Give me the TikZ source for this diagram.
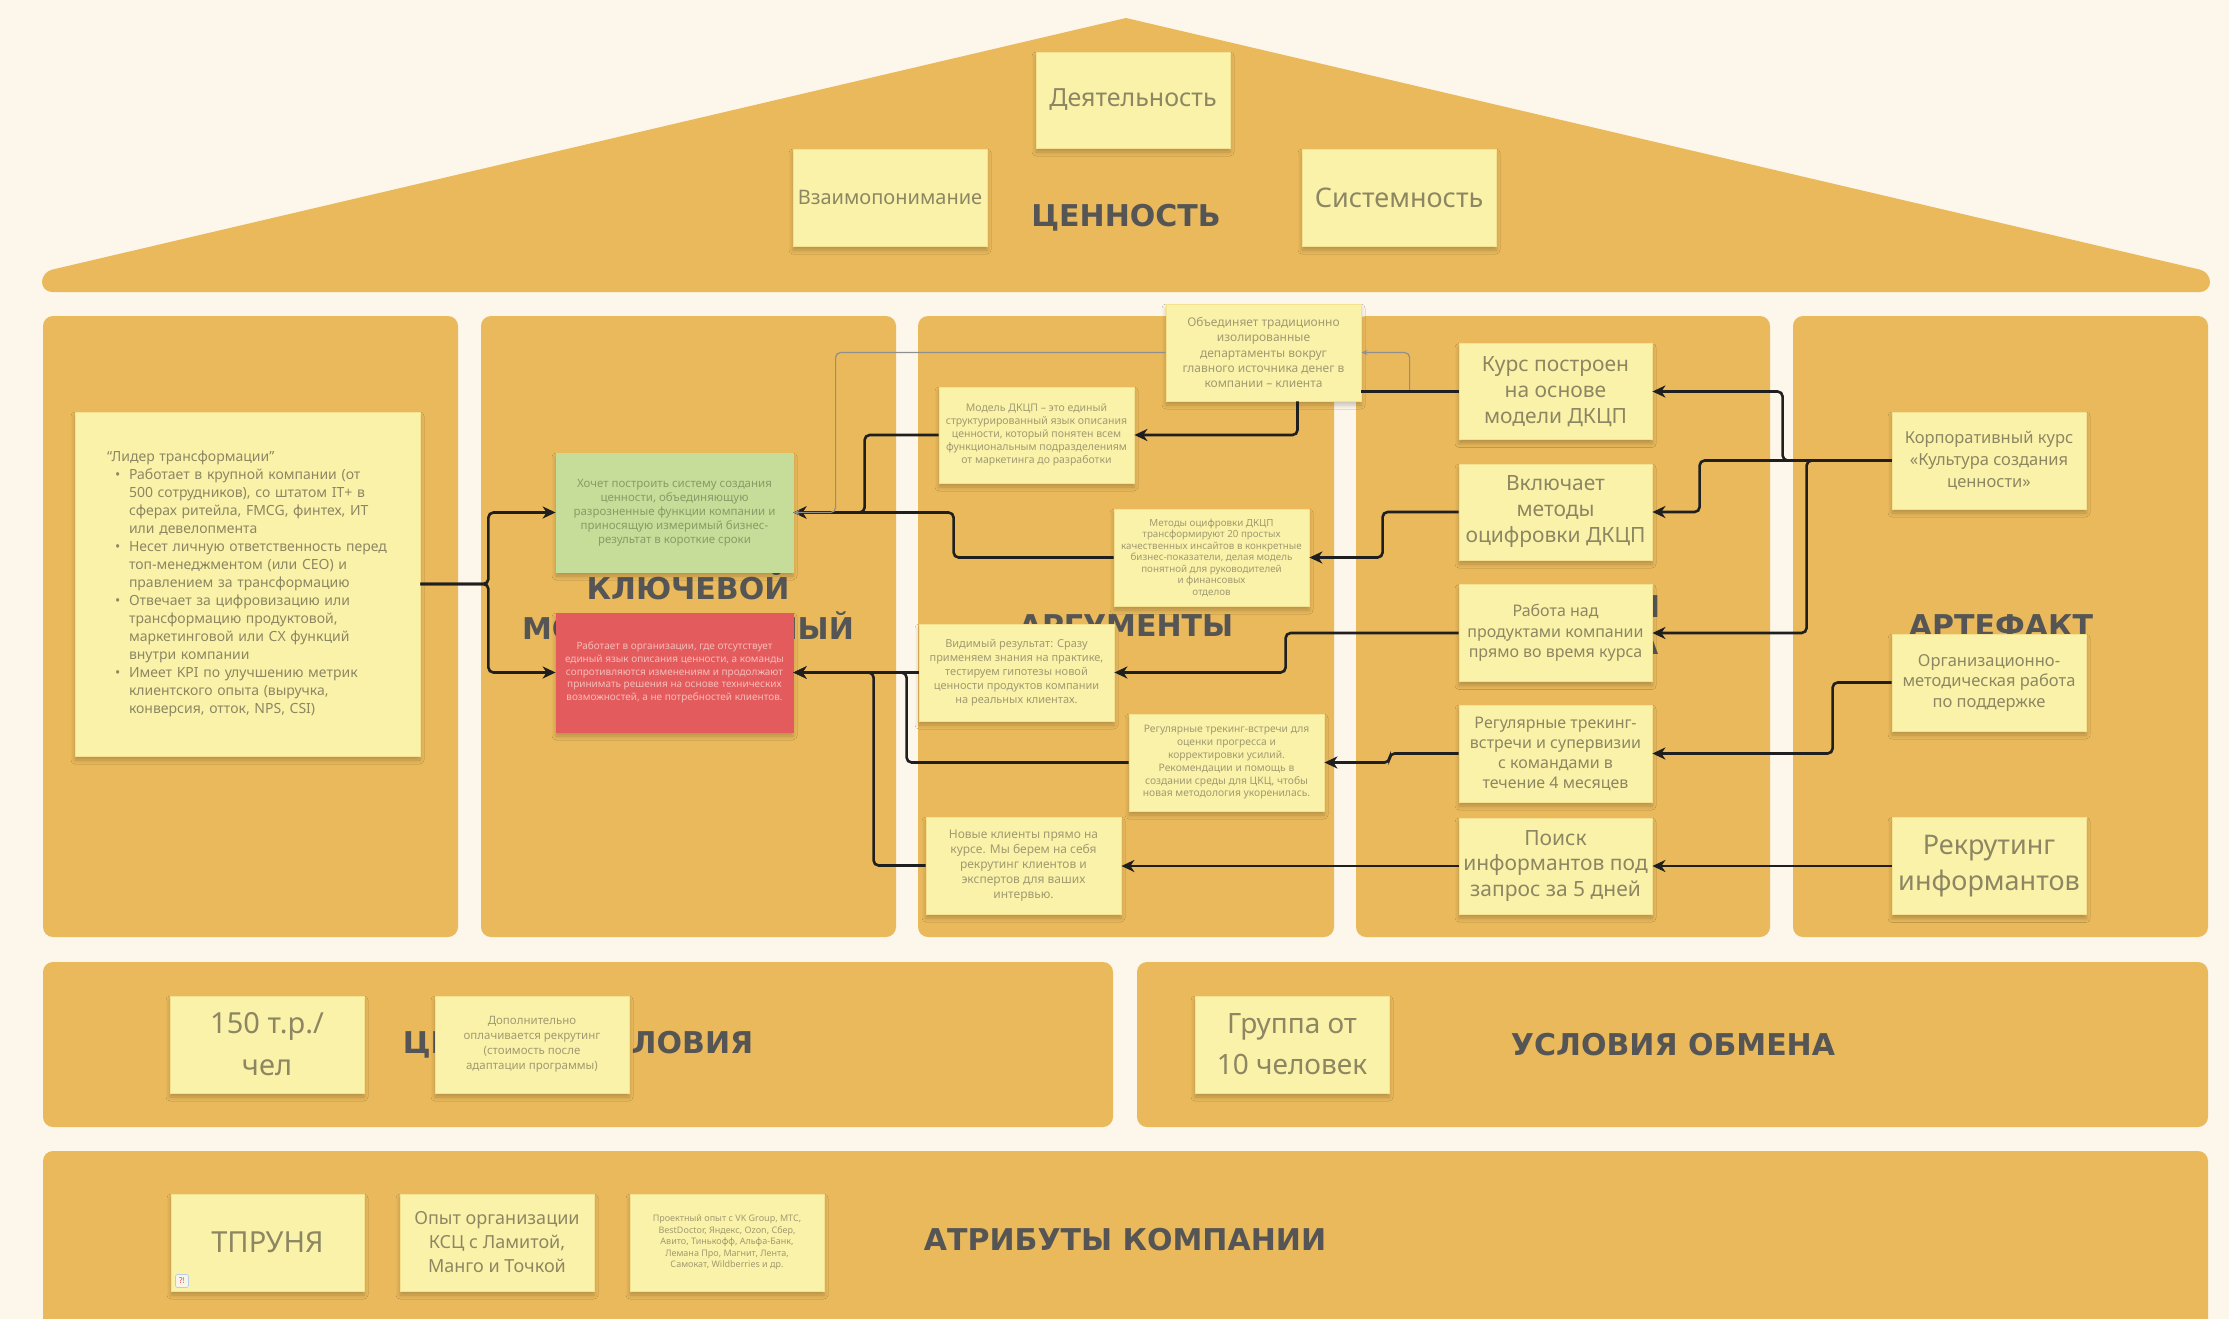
\documentclass[tikz,border=0pt]{standalone}
\usepackage{fontspec}
\setmainfont{Noto Sans}
\newfontfamily\lblfont{DejaVu Sans}
\usetikzlibrary{arrows.meta,shadows,shadows.blur}
\definecolor{bgc}{HTML}{FDF6EB}
\definecolor{panelc}{HTML}{E9B95B}
\definecolor{stickyc}{HTML}{FBF2AA}
\definecolor{stickyb}{HTML}{F4E290}
\definecolor{lblc}{HTML}{555555}
\definecolor{blurc}{HTML}{8C8762}
\definecolor{blurs}{HTML}{A09A70}
\definecolor{connc}{HTML}{1F1F1F}
\definecolor{thinc}{HTML}{8F8F8F}
\definecolor{greenc}{HTML}{C5DD98}
\definecolor{greent}{HTML}{8A9B68}
\definecolor{redc}{HTML}{E45B5D}
\definecolor{redt}{HTML}{F5BDB9}
\definecolor{iconb}{HTML}{B8CDE6}
\definecolor{iconf}{HTML}{F8F6E8}
\newcommand{\myfs}[2]{\fontsize{#1}{#2}\selectfont}
\newcommand{\blt}{\hspace*{8pt}\makebox[14pt][l]{•}}
\newcommand{\cnt}{\hspace*{22pt}}
\begin{document}
\begin{tikzpicture}[x=1pt,y=-1pt,
  stk/.style={fill=stickyc, draw=stickyb, line width=0.8pt, inner sep=0pt, align=center, text=blurc,
    blur shadow={shadow xshift=0pt, shadow yshift=-4pt, shadow blur radius=4pt, shadow opacity=22}},
  sz/.style 2 args={minimum width=#1pt, minimum height=#2pt},
  lbl/.style={font=\lblfont\bfseries\myfs{30}{38}, text=lblc, inner sep=0pt, align=center},
  conn/.style={draw=connc, line width=2.6pt, rounded corners=5pt, -{Stealth[length=13pt,width=12pt,inset=4pt]}},
  plain/.style={draw=connc, line width=2.6pt, rounded corners=5pt},
  thin/.style={draw=thinc, line width=1.2pt, rounded corners=5pt, -{Stealth[length=6pt,width=5pt]}}]
\useasboundingbox (0,0) rectangle (2229,1319);
\clip (0,0) rectangle (2229,1319);
\fill[bgc] (0,0) rectangle (2229,1319);
% roof
\fill[panelc] (1126,18) [rounded corners=10pt]-- (2210,272) -- (2210,292) -- (42,292) -- (42,272) [sharp corners]-- cycle;
% columns
\foreach \xa/\xb in {43/458, 481/896, 918/1334, 1356/1770, 1793/2208}
  \fill[panelc, rounded corners=10pt] (\xa,316) rectangle (\xb,937);
% rows
\fill[panelc, rounded corners=10pt] (43,962) rectangle (1113,1127);
\fill[panelc, rounded corners=10pt] (1137,962) rectangle (2208,1127);
\fill[panelc, rounded corners=10pt] (43,1151) rectangle (2208,1380);
% labels
\node[lbl] (lval) at (1126,218) {ЦЕННОСТЬ};
\node[lbl, font=\lblfont\bfseries\myfs{30}{40}] (lkey) at (688,608) {КЛЮЧЕВОЙ\\МОТИВАЦИОННЫЙ};
\node[lbl] (larg) at (1126,626) {АРГУМЕНТЫ};
\node[lbl, font=\lblfont\bfseries\myfs{30}{37}] (lel) at (1563,627) {ЭЛЕМЕНТЫ\\ПРОДУКТА};
\node[lbl] (lart) at (2001,626) {АРТЕФАКТ};
\node[lbl] (lprice) at (578,1045) {ЦЕНОВЫЕ УСЛОВИЯ};
\node[lbl] (lexch) at (1673,1045) {УСЛОВИЯ ОБМЕНА};
\node[lbl] (lattr) at (1125,1240) {АТРИБУТЫ КОМПАНИИ};

% roof stickies
\node[stk, sz={194}{96}, font=\myfs{25}{30}] (act) at (1133,100) {Деятельность};
\node[stk, sz={194}{97}, font=\myfs{20}{24}] (mut) at (890,197.5) {Взаимопонимание};
\node[stk, sz={194}{97}, font=\myfs{27}{32}] (sys) at (1399,197.5) {Системность};

% column 1
\node[stk, sz={345}{344}, text width=281pt, align=left, font=\myfs{14}{18}] (lead) at (247.5,584)
{“Лидер трансформации”\\
\blt Работает в крупной компании (от\\
\cnt 500 сотрудников), со штатом IT+ в\\
\cnt сферах ритейла, FMCG, финтех, ИТ\\
\cnt или девелопмента\\
\blt Несет личную ответственность перед\\
\cnt топ-менеджментом (или CEO) и\\
\cnt правлением за трансформацию\\
\blt Отвечает за цифровизацию или\\
\cnt трансформацию продуктовой,\\
\cnt маркетинговой или CX функций\\
\cnt внутри компании\\
\blt Имеет KPI по улучшению метрик\\
\cnt клиентского опыта (выручка,\\
\cnt конверсия, отток, NPS, CSI)};

% column 2
\node[stk, fill=greenc, draw=greenc, sz={237}{119}, text=greent, font=\myfs{11.5}{14}] (green) at (674.5,512.5)
{\textbf{Хочет} построить систему создания\\ценности, объединяющую\\разрозненные функции компании и\\приносящую измеримый бизнес-\\результат в короткие сроки};
\node[stk, fill=redc, draw=redc, sz={237}{119}, text=redt, font=\myfs{10}{12.7}] (red) at (674.5,672.5)
{Работает в организации, где отсутствует\\единый язык описания ценности, а команды\\сопротивляются изменениям и продолжают\\принимать решения на основе технических\\возможностей, а не потребностей клиентов.};

% column 3
\node[stk, sz={195}{97}, text=blurs, font=\myfs{12}{15.3}] (unite) at (1263.5,352.5)
{Объединяет традиционно\\изолированные\\департаменты вокруг\\главного источника денег в\\компании – клиента};
\node[stk, sz={195}{96}, text=blurs, font=\myfs{10.5}{13}] (model) at (1036.5,435)
{Модель ДКЦП – это единый\\структурированный язык описания\\ценности, который понятен всем\\функциональным подразделениям\\от маркетинга до разработки};
\node[stk, sz={195}{97}, text=blurs, font=\myfs{9.8}{11.5}] (methods) at (1211.5,557.5)
{Методы оцифровки ДКЦП\\трансформируют 20 простых\\качественных инсайтов в конкретные\\бизнес-показатели, делая модель\\понятной для руководителей\\и финансовых\\отделов};
\node[stk, sz={195}{97}, text=blurs, font=\myfs{11}{14}] (visible) at (1016.5,672.5)
{\textbf{Видимый результат:} Сразу\\применяем знания на практике,\\тестируем гипотезы новой\\ценности продуктов компании\\на реальных клиентах.};
\node[stk, sz={195}{97}, text=blurs, font=\myfs{10.3}{12.8}] (track) at (1226.5,762.5)
{Регулярные трекинг-встречи для\\оценки прогресса и\\корректировки усилий.\\Рекомендации и помощь в\\создании среды для ЦКЦ, чтобы\\новая методология укоренилась.};
\node[stk, sz={195}{97}, text=blurs, font=\myfs{12}{15}] (newcl) at (1023.5,865.5)
{\textbf{Новые клиенты прямо на}\\\textbf{курсе.} Мы берем на себя\\рекрутинг клиентов и\\экспертов для ваших\\интервью.};

% column 4
\node[stk, sz={193}{96}, font=\myfs{21}{26}] (c1) at (1555.5,391.5) {Курс построен\\на основе\\модели ДКЦП};
\node[stk, sz={193}{96}, font=\myfs{21}{26}] (c2) at (1555.5,512) {Включает\\методы\\оцифровки ДКЦП};
\node[stk, sz={193}{97}, font=\myfs{16}{20.4}] (c3) at (1555.5,633) {Работа над\\продуктами компании\\прямо во время курса};
\node[stk, sz={193}{97}, font=\myfs{16}{20}] (c4) at (1555.5,753.5) {Регулярные трекинг-\\встречи и супервизии\\с командами в\\течение 4 месяцев};
\node[stk, sz={193}{96}, font=\myfs{21}{25.5}] (c5) at (1555.5,866) {Поиск\\информантов под\\запрос за 5 дней};

% column 5
\node[stk, sz={194}{97}, font=\myfs{16.5}{22}] (k1) at (1989,460.5) {Корпоративный курс\\«Культура создания\\ценности»};
\node[stk, sz={194}{97}, font=\myfs{16.5}{20.5}] (k2) at (1989,682.5) {Организационно-\\методическая работа\\по поддержке};
\node[stk, sz={194}{97}, font=\myfs{27}{36}] (k3) at (1989,866) {Рекрутинг\\информантов};

% row 1
\node[stk, sz={194}{97}, font=\myfs{29}{42}] (price) at (267,1044.5) {150 т.р./\\чел};
\node[stk, sz={194}{97}, text=blurs, font=\myfs{11.5}{15}] (extra) at (532,1044.5) {Дополнительно\\оплачивается рекрутинг\\(стоимость после\\адаптации программы)};
\node[stk, sz={194}{97}, font=\myfs{28}{41}] (group) at (1292,1044.5) {Группа от\\10 человек};

% row 2
\node[stk, sz={193}{97}, font=\myfs{29}{34}] (tpr) at (267.5,1242.5) {ТПРУНЯ};
\node[stk, sz={194}{97}, font=\myfs{18}{24}] (exp) at (497,1242.5) {Опыт организации\\КСЦ с Ламитой,\\Манго и Точкой};
\node[stk, sz={194}{97}, text=blurs, font=\myfs{9}{11.5}] (cli) at (727,1242.5) {Проектный опыт с VK Group, МТС,\\BestDoctor, Яндекс, Ozon, Сбер,\\Авито, Тинькофф, Альфа-Банк,\\Лемана Про, Магнит, Лента,\\Самокат, Wildberries и др.};
\node[fill=iconf, draw=iconb, line width=0.6pt, rounded corners=1.5pt, inner sep=1pt, minimum width=13pt, minimum height=13pt, font=\myfs{8}{9}] (icon) at (182,1281) {\textcolor{red!80}{?}\textcolor{gray}{!}};

% connectors
\draw[conn] (lead.east) -- ++(68,0) |- (green.west);
\draw[conn] (lead.east) -- ++(68,0) |- (red.west);
\draw[conn] (model.west) -- ++(-74,0) |- (green.east);
\draw[conn] (methods.west) -- ++(-160,0) |- (green.east);
\draw[thin] (unite.west) -- ++(-330,0) |- (green.east);
\draw[thin] ([xshift=-49pt]c1.west) |- (unite.east);
\draw[conn] (visible.west) -- (red.east);
\draw[conn] (track.west) -- ++(-222,0) |- (red.east);
\draw[conn] (newcl.west) -- ++(-52,0) |- (red.east);
\draw[plain] (c1.west) -- (c1.west -| unite.east);
\draw[conn] ([xshift=34pt]unite.south) |- (model.east);
\draw[conn] (c2.west) -- ++(-76,0) |- (methods.east);
\draw[conn] (c3.west) -- ++(-173,0) |- (visible.east);
\draw[conn] (c4.west) -- ++(-69,0) |- (track.east);
\draw[conn] (c5.west) -- (c5.west -| newcl.east);
\draw[conn] (k1.west) -- ++(-109,0) |- (c1.east);
\draw[conn] (k1.west) -- ++(-192,0) |- (c2.east);
\draw[conn] (k1.west) -- ++(-85,0) |- (c3.east);
\draw[conn] (k2.west) -- ++(-59,0) |- (c4.east);
\draw[conn] (k3.west) -- (k3.west -| c5.east);
\end{tikzpicture}
\end{document}
